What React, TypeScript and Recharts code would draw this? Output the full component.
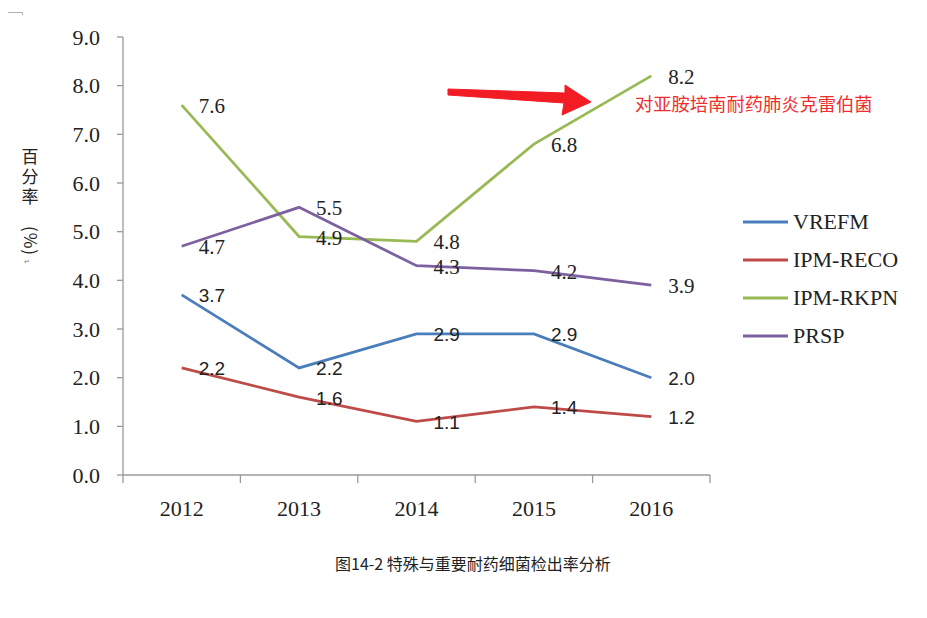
import React from 'react';
import { ComposedChart, Line, XAxis, YAxis, LabelList, Legend } from 'recharts';

const years = ['2012', '2013', '2014', '2015', '2016'];
const vrefm = [3.7, 2.2, 2.9, 2.9, 2.0];
const ipmReco = [2.2, 1.6, 1.1, 1.4, 1.2];
const ipmRkpn = [7.6, 4.9, 4.8, 6.8, 8.2];
const prsp = [4.7, 5.5, 4.3, 4.2, 3.9];
const yTicks = [0, 1, 2, 3, 4, 5, 6, 7, 8, 9];

const seriesNames = ['VREFM', 'IPM-RECO', 'IPM-RKPN', 'PRSP'];
const seriesColors = ['#4a7ebb', '#be4b48', '#98b954', '#7d60a0'];
const seriesFonts = ['Liberation Sans', 'Liberation Sans', 'Liberation Serif', 'Liberation Serif'];
const seriesFontSizes = [19, 19, 21, 21];

const rows = years.map((y, i) => ({
  year: y,
  VREFM: vrefm[i],
  'IPM-RECO': ipmReco[i],
  'IPM-RKPN': ipmRkpn[i],
  PRSP: prsp[i],
}));

const W = 927;
const H = 618;
const MARGIN = { top: 37, right: 217, bottom: 103, left: 63 };
const Y_AXIS_W = 60;
const X_AXIS_H = 40;
const PLOT_W = W - MARGIN.left - MARGIN.right - Y_AXIS_W;
const BAND = PLOT_W / years.length;
const AXIS_COLOR = '#9a9a9a';
const TEXT_COLOR = '#222';

const XTick = (props: any) => {
  const { x, y, payload, index } = props;
  const half = BAND / 2;
  return (
    <g>
      <line x1={x - half} x2={x - half} y1={y} y2={y + 8} stroke={AXIS_COLOR} strokeWidth={1.3} />
      {index === years.length - 1 && (
        <line x1={x + half} x2={x + half} y1={y} y2={y + 8} stroke={AXIS_COLOR} strokeWidth={1.3} />
      )}
      <text x={x} y={y + 41} textAnchor="middle" fill={TEXT_COLOR} fontSize={22} fontFamily="Liberation Serif">
        {payload.value}
      </text>
    </g>
  );
};

const makeLabel = (i: number) => (p: any) => {
  const px = p.viewBox && p.viewBox.x != null ? p.viewBox.x : p.x;
  const py = p.viewBox && p.viewBox.y != null ? p.viewBox.y : p.y;
  return (
    <text
      x={px + 17}
      y={py + 1}
      dominantBaseline="central"
      fill={TEXT_COLOR}
      fontSize={seriesFontSizes[i]}
      fontFamily={seriesFonts[i]}
    >
      {Number(p.value).toFixed(1)}
    </text>
  );
};

const LegendContent = () => (
  <div style={{ width: 180 }}>
    {seriesNames.map((n, i) => (
      <div key={n} style={{ display: 'flex', alignItems: 'center', height: 38 }}>
        <svg width={50} height={6} style={{ display: 'block' }}>
          <line x1={0} x2={45} y1={3} y2={3} stroke={seriesColors[i]} strokeWidth={3} />
        </svg>
        <span style={{ fontFamily: 'Liberation Serif', fontSize: 22, color: TEXT_COLOR, lineHeight: '38px' }}>{n}</span>
      </div>
    ))}
  </div>
);

export default function App() {
  return (
    <div style={{ position: 'absolute', left: 0, top: 0, width: W, height: H, background: '#fff' }}>
      <ComposedChart width={W} height={H} data={rows} margin={MARGIN}>
        <XAxis
          dataKey="year"
          height={X_AXIS_H}
          interval={0}
          padding={{ left: BAND / 2, right: BAND / 2 }}
          tickSize={0}
          tickMargin={0}
          tickLine={false}
          axisLine={{ stroke: AXIS_COLOR, strokeWidth: 1.3 }}
          tick={<XTick />}
        />
        <YAxis
          width={Y_AXIS_W}
          domain={[0, 9]}
          ticks={yTicks}
          interval={0}
          tickFormatter={(v: number) => v.toFixed(1)}
          tickSize={6}
          tickMargin={17}
          tickLine={{ stroke: AXIS_COLOR, strokeWidth: 1.3 }}
          axisLine={{ stroke: AXIS_COLOR, strokeWidth: 1.3 }}
          tick={{ fill: TEXT_COLOR, fontSize: 22, fontFamily: 'Liberation Serif' }}
        />
        <Legend
          layout="vertical"
          align="center"
          verticalAlign="middle"
          content={<LegendContent />}
          wrapperStyle={{ left: 743, top: 203, width: 180 }}
        />
        {seriesNames.map((n, i) => (
          <Line
            key={n}
            type="linear"
            dataKey={n}
            stroke={seriesColors[i]}
            strokeWidth={2.75}
            dot={false}
            activeDot={false}
            isAnimationActive={false}
          >
            <LabelList dataKey={n} content={makeLabel(i)} />
          </Line>
        ))}
      </ComposedChart>
      <svg
        width={W}
        height={H}
        style={{ position: 'absolute', left: 0, top: 0, pointerEvents: 'none' }}
      >
        <path d="M8 12.5 H22.5 V15" stroke="#b0b0b0" strokeWidth={1} fill="none" />
        <text
          x={30}
          y={148}
          fontSize={17}
          fill={TEXT_COLOR}
          fontFamily="Noto Sans CJK SC"
          letterSpacing={3}
          style={{ writingMode: 'vertical-rl' } as any}
        >
          百分率
        </text>
        <text
          x={241}
          y={-31}
          transform="rotate(90)"
          textAnchor="middle"
          dominantBaseline="central"
          fontSize={17}
          fill={TEXT_COLOR}
          fontFamily="Noto Sans CJK SC"
          letterSpacing={1}
        >
          (%)
        </text>
        <text x={27} y={262} textAnchor="middle" dominantBaseline="central" fontSize={7} fill="#777" fontFamily="DejaVu Sans">
          ↵
        </text>
        <polygon
          points="448,89 565,93 565,85 591,102 562,115 564,103 448,95"
          fill="#f21c24"
          stroke="#f21c24"
          strokeWidth={1}
          strokeLinejoin="round"
        />
        <text x={635} y={103} dominantBaseline="central" fontSize={18.3} fill="#ee2e2e" fontFamily="Noto Sans CJK SC">
          对亚胺培南耐药肺炎克雷伯菌
        </text>
        <text x={335} y={563} dominantBaseline="central" fontSize={16} fill={TEXT_COLOR} fontFamily="Noto Sans CJK SC">
          图14-2 特殊与重要耐药细菌检出率分析
        </text>
      </svg>
    </div>
  );
}
